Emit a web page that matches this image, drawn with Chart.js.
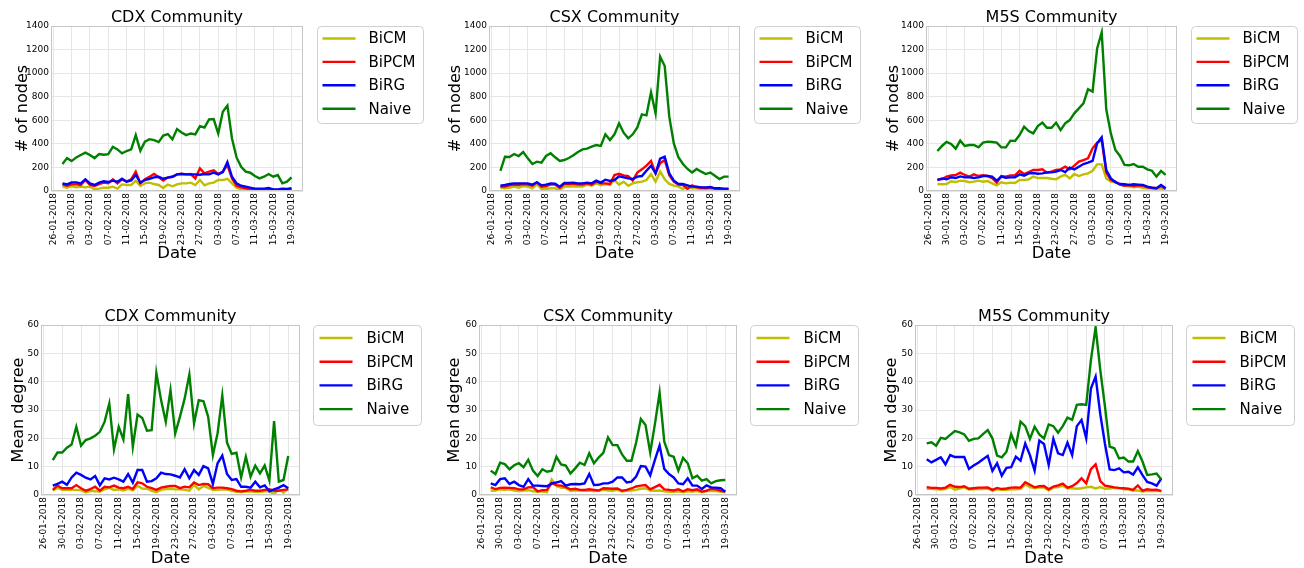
<!DOCTYPE html>
<html lang="en">
<head>
<meta charset="UTF-8">
<title>Community validated networks</title>
<script src="https://cdn.jsdelivr.net/npm/chart.js"></script>
<style>
  body { margin: 0; background: #fff; }
  #fig { position: relative; width: 1304px; height: 568px; overflow: hidden; }
  canvas { position: absolute; }
</style>
</head>
<body>
<div id="fig">
  <canvas id="cdxNodes"></canvas>
  <canvas id="csxNodes"></canvas>
  <canvas id="m5sNodes"></canvas>
  <canvas id="cdxDeg"></canvas>
  <canvas id="csxDeg"></canvas>
  <canvas id="m5sDeg"></canvas>
</div>
<script>
// daily snapshots
const dates = [
  '28-01-2018','29-01-2018','30-01-2018','31-01-2018','01-02-2018','02-02-2018','03-02-2018','04-02-2018',
  '05-02-2018','06-02-2018','07-02-2018','08-02-2018','09-02-2018','10-02-2018','11-02-2018','12-02-2018',
  '13-02-2018','14-02-2018','15-02-2018','16-02-2018','17-02-2018','18-02-2018','19-02-2018','20-02-2018',
  '21-02-2018','22-02-2018','23-02-2018','24-02-2018','25-02-2018','26-02-2018','27-02-2018','28-02-2018',
  '01-03-2018','02-03-2018','03-03-2018','04-03-2018','05-03-2018','06-03-2018','07-03-2018','08-03-2018',
  '09-03-2018','10-03-2018','11-03-2018','12-03-2018','13-03-2018','14-03-2018','15-03-2018','16-03-2018',
  '17-03-2018','18-03-2018','19-03-2018'
];
const tickLabels = ['26-01-2018','30-01-2018','03-02-2018','07-02-2018','11-02-2018','15-02-2018','19-02-2018',
  '23-02-2018','27-02-2018','03-03-2018','07-03-2018','11-03-2018','15-03-2018','19-03-2018'];
const seriesNames = ['BiCM', 'BiPCM', 'BiRG', 'Naive'];
const seriesColors = ['#bfbf00', '#ff0000', '#0000ff', '#008000'];

// number of nodes
const cdxNodesBiCM  = [37,28,42,31,37,31,37,15,20,28,28,37,20,56,51,51,88,42,65,71,59,51,25,54,40,56,65,65,71,51,93,48,65,71,93,93,104,65,28,14,8,6,3,3,6,8,3,3,6,8,11];
const cdxNodesBiPCM = [56,45,56,56,51,93,51,42,59,71,65,99,65,99,79,99,164,65,99,121,144,116,88,116,121,141,147,141,144,107,192,150,164,175,144,164,220,107,45,31,23,14,8,8,14,20,8,8,14,11,14];
const cdxNodesBiRG  = [65,56,73,73,65,99,65,51,71,82,76,88,79,104,79,90,136,71,93,104,116,121,104,113,121,141,144,141,141,141,138,144,141,155,141,161,246,121,65,45,37,28,20,20,20,25,14,14,20,17,25];
const cdxNodesNaive = [229,279,254,285,305,325,305,279,313,308,313,375,353,319,339,353,474,342,418,440,432,415,471,483,438,525,497,474,488,480,550,539,607,610,488,672,725,446,285,206,164,155,127,107,121,144,121,135,65,79,116];

const csxNodesBiCM  = [28,23,28,37,28,42,37,23,57,17,17,23,23,8,37,40,37,37,37,54,45,65,48,59,51,93,54,79,45,65,74,79,93,144,80,164,100,60,45,37,17,45,23,23,17,14,20,14,8,11,11];
const csxNodesBiPCM = [37,37,48,54,51,59,54,45,74,37,40,57,54,28,59,59,59,54,54,65,54,79,65,65,59,136,147,133,127,88,156,184,215,255,150,235,263,133,79,54,51,17,48,31,28,25,31,23,11,11,14];
const csxNodesBiRG  = [45,51,59,65,65,65,65,54,74,48,54,65,62,37,68,68,71,65,65,71,65,88,71,96,85,93,124,116,107,102,122,127,172,215,150,274,291,150,88,59,59,48,37,37,31,31,34,23,23,20,20];
const csxNodesNaive = [170,291,288,314,297,331,277,229,249,240,297,320,286,255,263,280,303,331,353,359,376,390,382,481,433,481,574,495,447,481,540,650,642,837,659,1140,1060,631,404,286,229,187,158,187,164,144,156,130,102,122,122];

const m5sNodesBiCM  = [59,57,59,82,76,88,85,74,79,88,79,85,65,48,74,65,71,68,93,93,99,122,110,110,110,104,99,122,138,107,144,127,141,150,172,226,226,107,79,74,57,45,37,31,37,25,23,20,20,23,14];
const m5sNodesBiPCM = [99,99,122,133,136,156,136,122,141,127,133,127,110,71,127,122,133,133,172,144,161,178,178,184,156,164,178,184,206,184,215,249,263,277,362,410,433,156,93,79,54,45,51,42,48,45,31,28,23,42,20];
const m5sNodesBiRG  = [93,107,99,116,110,124,116,116,110,116,127,127,122,88,122,113,116,116,141,130,150,153,147,150,158,158,164,178,161,198,184,206,229,240,255,404,455,178,107,74,59,57,51,57,54,51,37,28,23,51,23];
const m5sNodesNaive = [339,382,416,399,359,427,382,390,390,370,410,419,416,410,370,370,427,424,475,546,509,489,551,580,537,537,580,517,574,602,659,701,744,863,843,1210,1346,693,489,348,297,221,218,229,206,206,184,172,122,170,136];

// mean degree
const cdxDegBiCM  = [1.6,2.5,1.8,1.8,1.8,1.8,1.7,0.9,1.5,1.3,1.2,2.0,2.5,1.8,2.0,1.6,2.2,1.6,3.3,2.3,2.2,1.5,1.0,1.8,2.1,2.2,2.0,2.0,1.8,1.5,3.6,2.0,3.2,2.5,1.8,1.8,2.0,1.9,1.5,1.1,1.0,1.2,1.3,1.0,1.0,1.3,1.3,0.3,2.0,0.8,2.3];
const cdxDegBiPCM = [1.8,3.3,2.4,2.4,2.4,3.5,2.4,1.5,2.1,2.9,1.5,2.9,2.7,3.3,2.6,2.4,2.9,2.1,4.5,4.1,2.9,2.4,1.8,2.6,2.9,3.2,3.2,2.4,2.9,2.7,4.4,3.5,3.9,3.8,2.4,2.6,2.6,2.4,2.1,1.5,1.3,1.5,1.8,1.5,1.5,1.8,2.0,1.5,1.5,1.8,2.0];
const cdxDegBiRG  = [3.3,3.9,4.7,3.6,6.2,7.9,7.1,6.1,5.5,6.7,3.4,5.9,5.5,6.1,5.5,4.7,7.4,4.4,8.8,8.8,4.7,4.9,5.9,7.9,7.4,7.3,6.8,6.2,9.1,5.9,8.8,7.1,10.2,9.4,3.9,11.2,13.9,7.4,5.3,5.6,2.9,2.9,2.6,4.7,2.7,3.4,1.3,2.0,2.6,3.5,2.4];
const cdxDegNaive = [12.3,15.0,15.0,16.7,17.8,24.1,17.4,19.4,20.0,20.9,22.3,25.8,32.3,16.1,24.1,19.6,35.6,17.0,28.4,27.2,22.7,22.9,43.1,33.5,25.8,37.0,21.7,27.6,34.0,42.5,25.3,33.5,33.1,27.6,14.1,21.8,35.1,18.5,14.5,14.9,6.2,13.5,6.5,10.4,7.6,10.4,5.1,26.1,4.7,5.3,13.8];

const csxDegBiCM  = [1.5,1.6,2.0,1.8,2.0,1.6,1.4,1.6,1.7,1.3,1.2,1.2,1.0,5.5,3.2,2.5,2.5,1.5,1.6,1.6,1.5,1.6,1.4,1.5,1.8,1.6,1.5,1.8,1.2,1.5,1.6,1.8,2.2,2.4,1.6,1.5,1.6,1.3,1.1,1.0,1.3,1.0,1.3,1.2,1.4,1.0,1.4,1.5,1.4,1.2,1.0];
const csxDegBiPCM = [2.7,2.1,2.5,2.6,2.5,2.4,2.0,2.0,2.7,2.8,1.3,1.7,1.8,4.2,3.5,3.3,2.8,2.0,2.2,1.8,1.8,2.0,1.8,1.6,2.4,2.3,2.2,2.3,1.5,1.8,2.3,3.0,3.3,3.5,2.0,2.8,3.6,2.0,1.8,1.6,2.0,1.3,2.0,1.7,2.0,1.2,1.5,2.2,2.0,1.5,1.2];
const csxDegBiRG  = [4.1,3.5,5.6,5.9,3.9,4.7,3.5,2.9,5.6,3.3,3.3,3.2,3.1,4.1,4.4,4.9,3.3,3.8,3.9,3.8,4.1,7.4,3.5,3.6,4.1,4.1,4.7,6.2,6.2,4.4,4.7,6.5,10.2,10.0,6.9,12.4,17.5,9.2,7.4,6.2,4.1,3.8,5.9,3.3,3.3,2.1,3.4,2.7,2.6,2.4,1.2];
const csxDegNaive = [8.6,7.4,11.4,10.9,9.1,10.5,11.2,9.8,12.4,8.6,6.7,9.1,8.2,8.6,13.5,10.8,10.4,7.6,9.4,11.4,10.6,14.7,11.2,13.2,14.9,20.3,17.6,17.6,14.3,12.1,12.1,18.5,26.8,24.7,14.9,25.0,36.1,18.8,14.1,13.5,8.6,13.1,11.2,5.9,6.8,5.1,5.6,4.1,4.9,5.2,5.3];

const m5sDegBiCM  = [2.2,2.2,2.0,1.9,2.1,2.8,1.9,2.3,2.7,1.9,2.0,2.2,2.1,2.3,1.5,2.0,1.8,1.8,2.0,2.0,2.2,3.7,2.8,2.4,2.6,2.6,1.6,2.6,2.8,3.2,2.4,2.4,2.2,2.4,2.7,2.9,2.3,2.8,2.2,2.3,2.5,2.4,2.0,2.0,1.6,1.6,1.2,1.5,1.4,1.5,1.4];
const m5sDegBiPCM = [2.8,2.5,2.5,2.3,2.6,3.6,2.9,2.8,3.1,2.2,2.4,2.6,2.6,2.7,1.8,2.5,2.1,2.3,2.6,2.7,2.6,4.5,3.6,2.7,3.1,3.2,2.0,3.0,3.4,4.0,2.6,3.1,4.2,5.9,4.1,9.1,10.8,4.9,3.3,3.0,2.7,2.5,2.4,2.2,1.8,3.4,1.5,2.0,1.8,1.9,1.4];
const m5sDegBiRG  = [12.6,11.5,12.4,13.3,10.8,14.1,13.4,13.4,13.4,9.2,10.4,11.4,12.6,13.8,8.5,11.2,6.8,9.6,9.8,13.5,12.1,18.2,14.1,8.6,19.2,18.0,10.6,19.8,14.7,14.1,18.5,14.1,24.3,26.5,20.0,37.6,41.8,28.5,18.0,9.0,8.8,9.4,8.0,8.2,7.2,9.8,7.0,4.6,4.1,3.3,5.8];
const m5sDegNaive = [18.2,18.6,17.4,20.2,19.8,21.2,22.6,22.1,21.4,19.1,19.8,20.0,21.5,22.9,20.0,13.9,13.3,15.3,21.5,17.3,25.9,24.3,19.8,24.1,21.4,20.0,24.9,24.3,22.0,24.3,27.3,26.5,31.8,32.0,31.8,47.6,59.2,44.1,31.2,17.1,16.5,12.9,13.2,11.8,11.8,15.5,11.8,7.1,7.3,7.6,5.5];

Chart.defaults.font.family = '"DejaVu Sans", sans-serif';
Chart.defaults.color = '#000';

function dayOf(s) {
  const [d, m, y] = s.split('-').map(Number);
  return (Date.UTC(y, m - 1, d) - Date.UTC(2018, 0, 26)) / 86400000;
}
const tickDays = tickLabels.map(dayOf);
const xDays = dates.map(dayOf);

// box around the axes, like matplotlib spines
const axesFrame = {
  id: 'axesFrame',
  afterDatasetsDraw(chart) {
    const a = chart.chartArea, ctx = chart.ctx;
    ctx.save();
    ctx.strokeStyle = '#c6c6c6';
    ctx.lineWidth = 1;
    ctx.strokeRect(a.left + 0.5, a.top + 0.5, a.right - a.left - 1, a.bottom - a.top - 1);
    ctx.restore();
  }
};

// legend placed outside the axes, upper left of the free space
const outerLegend = {
  id: 'outerLegend',
  afterDraw(chart, args, o) {
    const a = chart.chartArea, ctx = chart.ctx;
    const fx = Math.round(a.right + o.gap) + 0.5, fy = Math.round(a.top) + 0.5;
    ctx.save();
    ctx.beginPath();
    ctx.roundRect(fx, fy, o.w, o.h, 4);
    ctx.fillStyle = 'rgba(255,255,255,0.8)';
    ctx.fill();
    ctx.strokeStyle = '#d0d0d0';
    ctx.lineWidth = 1;
    ctx.stroke();
    ctx.font = '15px "DejaVu Sans"';
    ctx.textBaseline = 'middle';
    ctx.textAlign = 'left';
    chart.data.datasets.forEach((ds, i) => {
      const cy = fy + o.row0 + i * o.dy;
      ctx.beginPath();
      ctx.moveTo(fx + o.lx, cy);
      ctx.lineTo(fx + o.lx + o.len, cy);
      ctx.strokeStyle = ds.borderColor;
      ctx.lineWidth = 2.4;
      ctx.stroke();
      ctx.fillStyle = '#000';
      ctx.fillText(ds.label, fx + o.tx, cy + 1);
    });
    ctx.restore();
  }
};

const topLegend = { gap: 14, w: 106, h: 97, row0: 12, dy: 23.4, lx: 5, len: 33, tx: 51 };
const botLegend = { gap: 13, w: 108, h: 100, row0: 12.5, dy: 23.7, lx: 6, len: 33, tx: 53 };

const panels = [
  { id: 'cdxNodes', x: 0,   y: 0,   w: 430, h: 270, plot: [51, 26, 303, 191], title: 'CDX Community', titleY: 18.3, ylabel: '# of nodes', ylabelX: 22.8, dateY: 254.2, ymax: 1400, ystep: 200, lg: topLegend, data: [cdxNodesBiCM, cdxNodesBiPCM, cdxNodesBiRG, cdxNodesNaive] },
  { id: 'csxNodes', x: 436, y: 0,   w: 430, h: 270, plot: [489, 26, 740, 191], title: 'CSX Community', titleY: 18.3, ylabel: '# of nodes', ylabelX: 456, dateY: 254.2, ymax: 1400, ystep: 200, lg: topLegend, data: [csxNodesBiCM, csxNodesBiPCM, csxNodesBiRG, csxNodesNaive] },
  { id: 'm5sNodes', x: 872, y: 0,   w: 432, h: 270, plot: [926, 26, 1177, 191], title: 'M5S Community', titleY: 18.3, ylabel: '# of nodes', ylabelX: 893.6, dateY: 254.2, ymax: 1400, ystep: 200, lg: topLegend, data: [m5sNodesBiCM, m5sNodesBiPCM, m5sNodesBiRG, m5sNodesNaive] },
  { id: 'cdxDeg',   x: 0,   y: 284, w: 430, h: 284, plot: [41, 325, 300, 495], title: 'CDX Community', titleY: 316.6, ylabel: 'Mean degree', ylabelX: 18.9, dateY: 558.6, ymax: 60, ystep: 10, lg: botLegend, data: [cdxDegBiCM, cdxDegBiPCM, cdxDegBiRG, cdxDegNaive] },
  { id: 'csxDeg',   x: 436, y: 284, w: 430, h: 284, plot: [479, 325, 737, 495], title: 'CSX Community', titleY: 316.6, ylabel: 'Mean degree', ylabelX: 455.2, dateY: 558.6, ymax: 60, ystep: 10, lg: botLegend, data: [csxDegBiCM, csxDegBiPCM, csxDegBiRG, csxDegNaive] },
  { id: 'm5sDeg',   x: 872, y: 284, w: 432, h: 284, plot: [915, 325, 1173, 495], title: 'M5S Community', titleY: 316.6, ylabel: 'Mean degree', ylabelX: 892, dateY: 558.6, ymax: 60, ystep: 10, lg: botLegend, data: [m5sDegBiCM, m5sDegBiPCM, m5sDegBiRG, m5sDegNaive] }
];

panels.forEach(p => {
  const cv = document.getElementById(p.id);
  cv.width = p.w; cv.height = p.h;
  cv.style.left = p.x + 'px'; cv.style.top = p.y + 'px';
  cv.style.width = p.w + 'px'; cv.style.height = p.h + 'px';

  const [pl, pt, pr, pb] = p.plot;
  const titleTop = p.titleY - p.y - 8;
  const grid = { color: '#e6e6e6', drawTicks: false, lineWidth: 1 };

  new Chart(cv, {
    type: 'line',
    data: {
      datasets: seriesNames.map((name, i) => ({
        label: name,
        data: p.data[i].map((v, k) => ({ x: xDays[k], y: v })),
        borderColor: seriesColors[i],
        backgroundColor: seriesColors[i],
        borderWidth: 2.4,
        pointRadius: 0,
        tension: 0,
        order: 3 - i
      }))
    },
    options: {
      responsive: false,
      animation: false,
      devicePixelRatio: 1,
      layout: { padding: { left: 0, top: 0, right: p.x + p.w - pr, bottom: 0 } },
      plugins: {
        legend: { display: false },
        tooltip: { enabled: false },
        title: {
          display: true, text: p.title, fullSize: false, color: '#000',
          font: { size: 16, weight: 'normal', lineHeight: 1 },
          padding: { top: titleTop, bottom: (pt - p.y) - titleTop - 16 }
        },
        outerLegend: p.lg
      },
      scales: {
        x: {
          type: 'linear', min: -0.5, max: 54.5,
          afterBuildTicks: s => { s.ticks = tickDays.map(v => ({ value: v })); },
          afterFit: s => { s.height = p.y + p.h - pb; },
          ticks: {
            autoSkip: false, minRotation: 90, maxRotation: 90, padding: 2,
            font: { size: 9 }, color: '#000',
            callback: (v, i) => tickLabels[i]
          },
          grid: grid,
          border: { display: false },
          title: {
            display: true, text: 'Date', color: '#000',
            font: { size: 16.5, lineHeight: 1 },
            padding: { top: 0, bottom: p.y + p.h - p.dateY - 8.25 }
          }
        },
        y: {
          min: 0, max: p.ymax,
          afterFit: s => { s.width = pl - p.x; },
          ticks: { stepSize: p.ystep, padding: 2, font: { size: 9 }, color: '#000', callback: v => String(v) },
          grid: grid,
          border: { display: false },
          title: {
            display: true, text: p.ylabel, color: '#000',
            font: { size: 16, lineHeight: 1 },
            padding: { top: p.ylabelX - p.x - 8, bottom: 0 }
          }
        }
      }
    },
    plugins: [axesFrame, outerLegend]
  });
});
</script>
</body>
</html>
